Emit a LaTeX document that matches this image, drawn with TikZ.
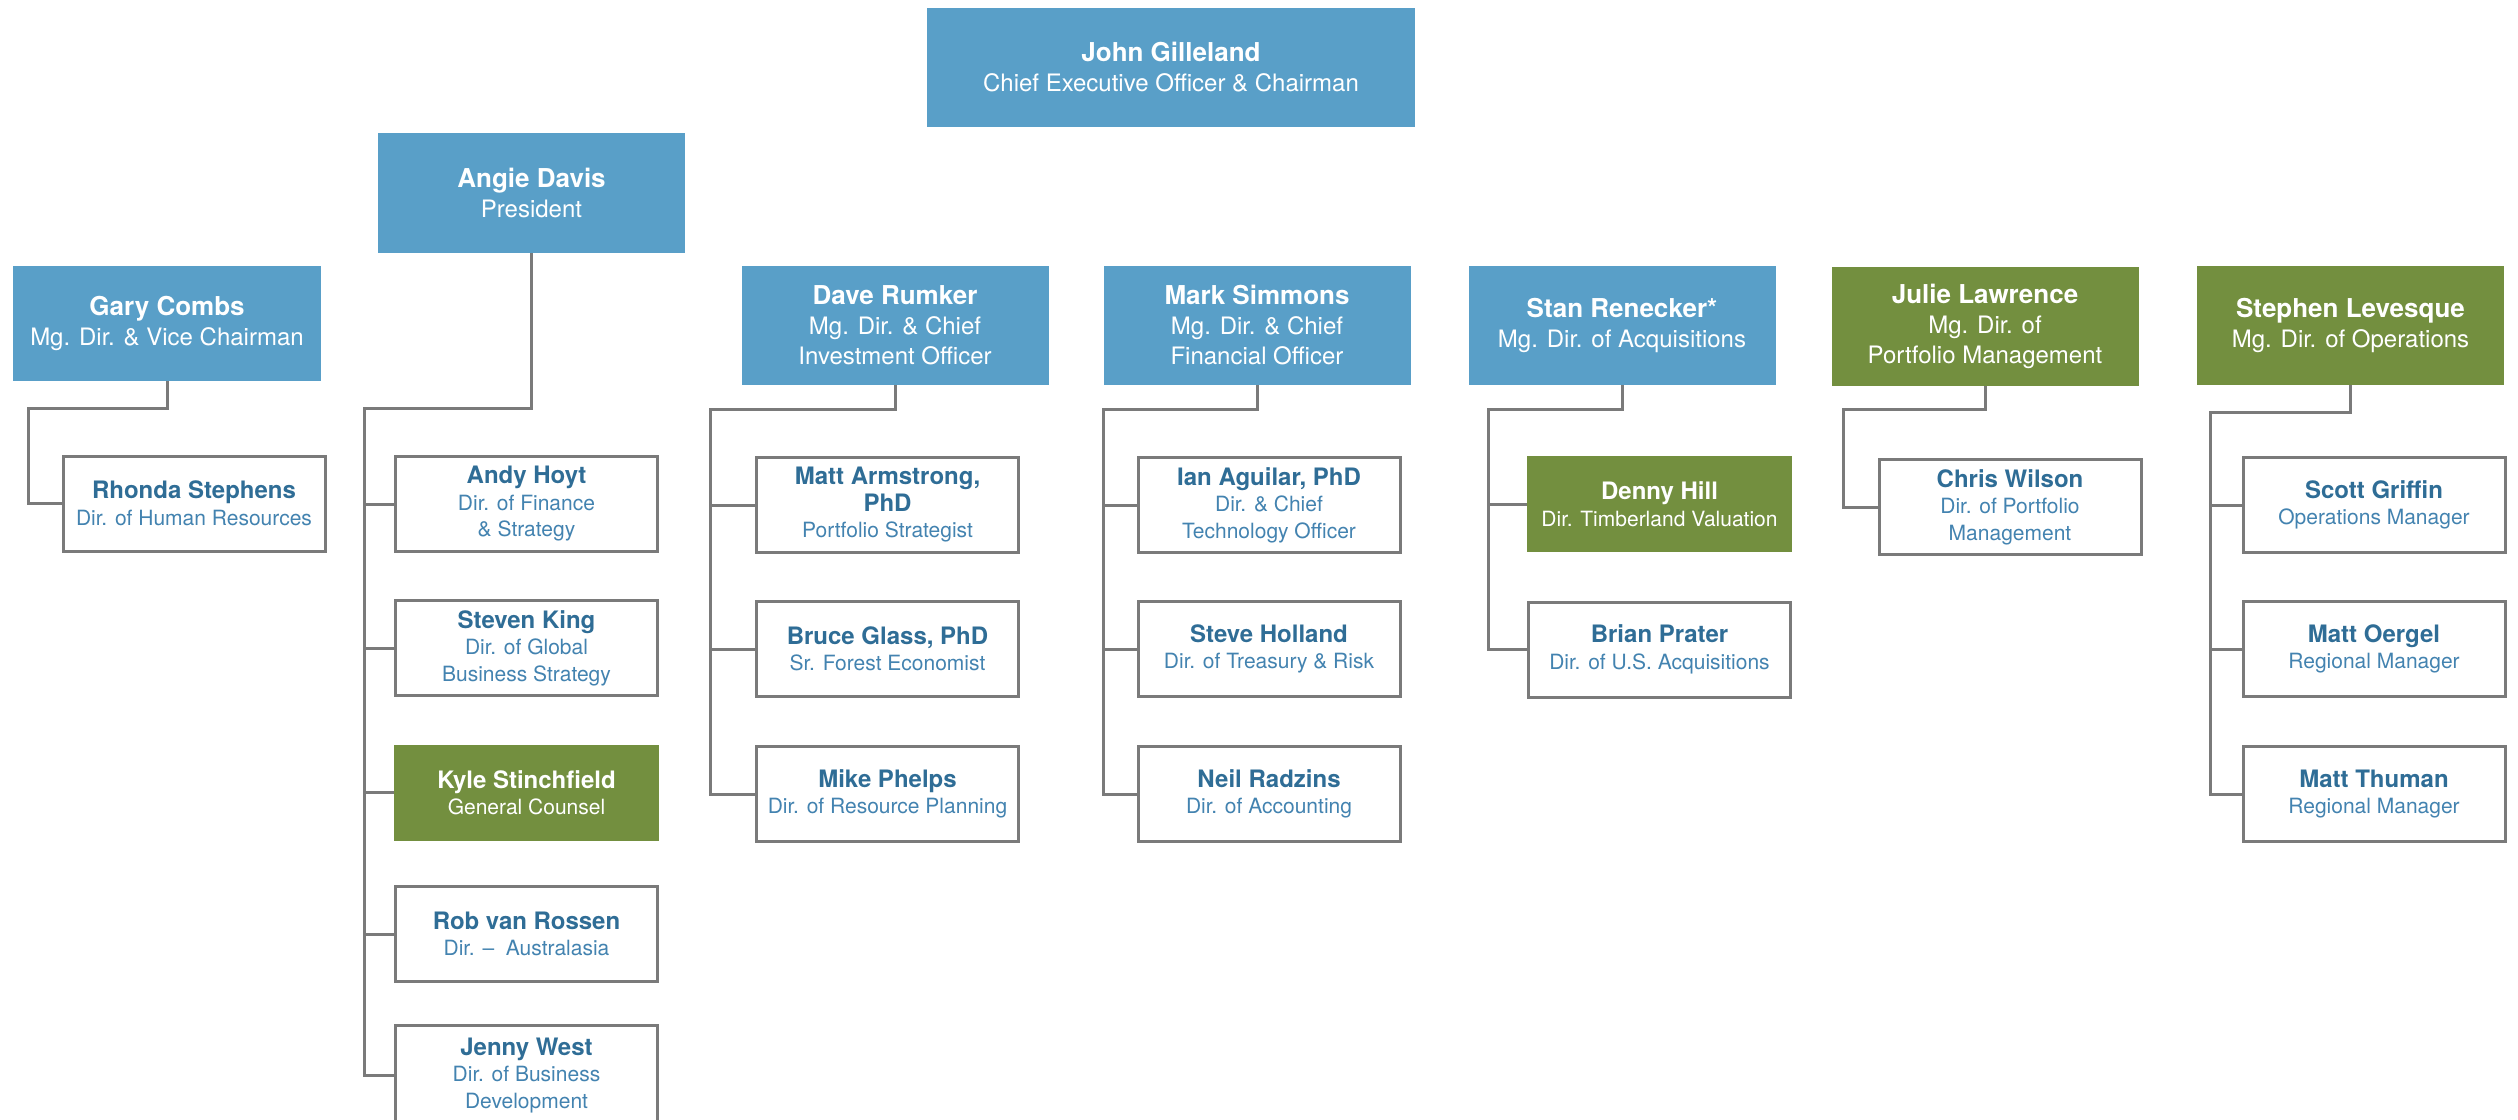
\documentclass[tikz,border=0pt]{standalone}
\usepackage{fontspec}
\setmainfont{TeX Gyre Heros}
\definecolor{hblue}{HTML}{599FC8}
\definecolor{hgreen}{HTML}{738F3F}
\definecolor{nmcol}{HTML}{2F6D96}
\definecolor{sbcol}{HTML}{4383B0}
\definecolor{lncol}{HTML}{7A7A7A}
\tikzset{
 base/.style={rectangle, inner sep=0pt, align=center, anchor=center},
 headblue/.style={base, fill=hblue, text=white, minimum width=307pt, minimum height=119pt, font=\fontsize{24}{30}\selectfont},
 headgreen/.style={headblue, fill=hgreen},
 subbox/.style={base, draw=lncol, line width=3pt, fill=white, text=sbcol, minimum width=262pt, minimum height=95pt, font=\fontsize{21}{26.5}\selectfont},
 subgreen/.style={base, fill=hgreen, text=white, minimum width=265pt, minimum height=96pt, font=\fontsize{21}{26.5}\selectfont},
 conn/.style={draw=lncol, line width=3pt},
}
\newcommand{\hn}[1]{{\fontsize{26}{30}\selectfont\bfseries #1}}
\newcommand{\sn}[1]{{\fontsize{24}{26.5}\selectfont\bfseries\color{nmcol}#1}}
\newcommand{\gn}[1]{{\fontsize{24}{26.5}\selectfont\bfseries #1}}
\begin{document}
\begin{tikzpicture}[x=1pt,y=-1pt]
\useasboundingbox (0,0) rectangle (2518,1119);
\clip (0,0) rectangle (2518,1119);
% heads
\node[headblue, minimum width=488pt] (ceo) at (1171,67) {\hn{John Gilleland}\\Chief Executive Officer \& Chairman};
\node[headblue, minimum height=120pt] (angie) at (531.5,193) {\hn{Angie Davis}\\President};
\node[headblue, minimum width=308pt, minimum height=115pt] (gary) at (167,323.5) {\hn{Gary Combs}\\Mg. Dir. \& Vice Chairman};
\node[headblue] (dave) at (895,325.5) {\hn{Dave Rumker}\\Mg. Dir. \& Chief\\Investment Officer};
\node[headblue] (mark) at (1257,325.5) {\hn{Mark Simmons}\\Mg. Dir. \& Chief\\Financial Officer};
\node[headblue] (stan) at (1622,325.5) {\hn{Stan Renecker*}\\Mg. Dir. of Acquisitions};
\node[headgreen] (julie) at (1985,326.5) {\hn{Julie Lawrence}\\Mg. Dir. of\\Portfolio Management};
\node[headgreen] (stephen) at (2350.5,325.5) {\hn{Stephen Levesque}\\Mg. Dir. of Operations};
% subordinates
\node[subbox] (rhonda) at (194,503.5) {\sn{Rhonda Stephens}\\Dir. of Human Resources};
\node[subbox] (andy) at (526.5,504) {\sn{Andy Hoyt}\\Dir. of Finance\\\& Strategy};
\node[subbox] (steven) at (526.5,648) {\sn{Steven King}\\Dir. of Global\\Business Strategy};
\node[subgreen] (kyle) at (526.5,792.5) {\gn{Kyle Stinchfield}\\General Counsel};
\node[subbox] (rob) at (526.5,934) {\sn{Rob van Rossen}\\Dir. --\ \ Australasia};
\node[subbox, minimum height=100pt] (jenny) at (526.5,1075.5) {\sn{Jenny West}\\Dir. of Business\\Development};
\node[subbox] (matt) at (887.5,505) {\sn{Matt Armstrong,}\\\sn{PhD}\\Portfolio Strategist};
\node[subbox] (bruce) at (887.5,649) {\sn{Bruce Glass, PhD}\\Sr. Forest Economist};
\node[subbox] (mike) at (887.5,794) {\sn{Mike Phelps}\\Dir. of Resource Planning};
\node[subbox] (ian) at (1269,505) {\sn{Ian Aguilar, PhD}\\Dir. \& Chief\\Technology Officer};
\node[subbox] (steve) at (1269,649) {\sn{Steve Holland}\\Dir. of Treasury \& Risk};
\node[subbox] (neil) at (1269,794) {\sn{Neil Radzins}\\Dir. of Accounting};
\node[subgreen] (denny) at (1659.5,504) {\gn{Denny Hill}\\Dir. Timberland Valuation};
\node[subbox] (brian) at (1659.5,649.5) {\sn{Brian Prater}\\Dir. of U.S. Acquisitions};
\node[subbox] (chris) at (2010,507) {\sn{Chris Wilson}\\Dir. of Portfolio\\Management};
\node[subbox] (scott) at (2374,505) {\sn{Scott Griffin}\\Operations Manager};
\node[subbox] (oergel) at (2374,649) {\sn{Matt Oergel}\\Regional Manager};
\node[subbox] (thuman) at (2374,794) {\sn{Matt Thuman}\\Regional Manager};
% buses
\coordinate (gbus) at (28,408);
\coordinate (abus) at (364,408);
\coordinate (dbus) at (710,409);
\coordinate (mbus) at (1103,409);
\coordinate (sbus) at (1488,409);
\coordinate (jbus) at (1843,409);
\coordinate (stbus) at (2210,412);
% connectors
\draw[conn] (gary.south) |- (gbus) |- (rhonda.west);
\draw[conn] (angie.south) |- (abus) |- (jenny.west);
\draw[conn] (abus |- andy.west) -- (andy.west);
\draw[conn] (abus |- steven.west) -- (steven.west);
\draw[conn] (abus |- kyle.west) -- (kyle.west);
\draw[conn] (abus |- rob.west) -- (rob.west);
\draw[conn] (dave.south) |- (dbus) |- (mike.west);
\draw[conn] (dbus |- matt.west) -- (matt.west);
\draw[conn] (dbus |- bruce.west) -- (bruce.west);
\draw[conn] (mark.south) |- (mbus) |- (neil.west);
\draw[conn] (mbus |- ian.west) -- (ian.west);
\draw[conn] (mbus |- steve.west) -- (steve.west);
\draw[conn] (stan.south) |- (sbus) |- (brian.west);
\draw[conn] (sbus |- denny.west) -- (denny.west);
\draw[conn] (julie.south) |- (jbus) |- (chris.west);
\draw[conn] (stephen.south) |- (stbus) |- (thuman.west);
\draw[conn] (stbus |- scott.west) -- (scott.west);
\draw[conn] (stbus |- oergel.west) -- (oergel.west);
\end{tikzpicture}
\end{document}
